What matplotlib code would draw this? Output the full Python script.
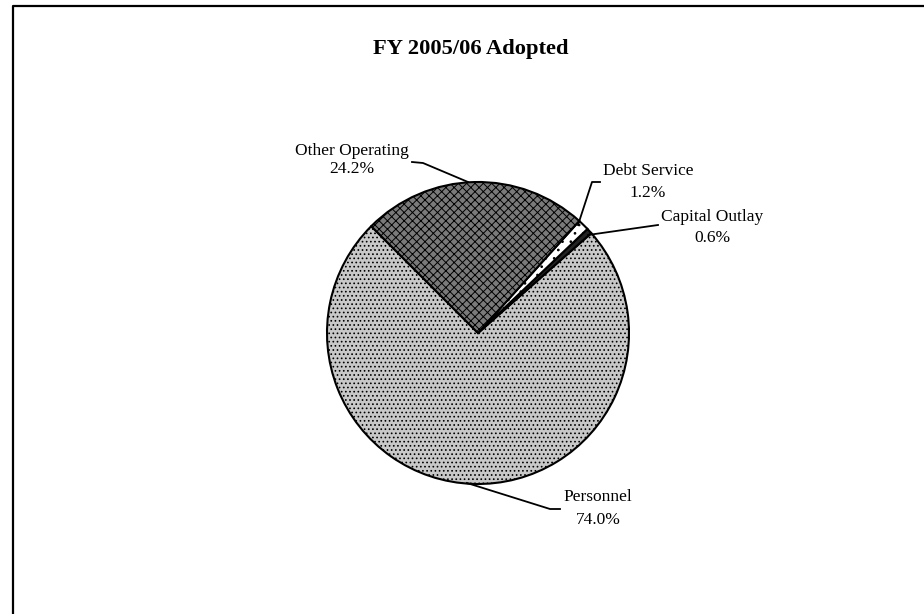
import matplotlib.pyplot as plt
import numpy as np

plt.rcParams['font.family'] = ['Liberation Serif', 'DejaVu Serif']
plt.rcParams['hatch.linewidth'] = 0.7

# data (pie drawn counterclockwise from 135 deg)
categories = ["Personnel", "Capital Outlay", "Debt Service", "Other Operating"]
shares = [74.0, 0.6, 1.2, 24.2]
face_cols = ["#c8c8c8", "#222222", "#ffffff", "#7a7a7a"]
hatches = ["....", "", "..", "xxxx"]

W, H = 924, 614

def px(x, y):
    # picture pixel -> data coords (y up)
    return x, H - y

fig = plt.figure(figsize=(9.24, 6.14), dpi=100)
ax = fig.add_axes([0, 0, 1, 1])

# frame (only top & left visible)
ax.plot([13, 13, W + 5], [-5, H - 6, H - 6], color='black', lw=1.6)

cx, cy = px(478, 333)
wedges, _ = ax.pie(shares, startangle=135, counterclock=True, center=(cx, cy),
                   radius=151, colors=face_cols, frame=True,
                   wedgeprops=dict(edgecolor='black', linewidth=1.5))
for w, h in zip(wedges, hatches):
    w.set_hatch(h)
ax.set_xlim(0, W)
ax.set_ylim(0, H)
ax.set_aspect('equal')
ax.axis('off')

ax.text(*px(471, 49), "FY 2005/06 Adopted", ha='center', va='center',
        fontsize=16.2, fontweight='bold')

# labels: text position + leader polyline (picture pixels)
labels = {
    "Other Operating": ((352, 151), (352, 169), [(412, 162), (423, 163), (468, 182)]),
    "Debt Service": ((648, 171), (648, 193), [(600, 182), (592, 182), (578, 225)]),
    "Capital Outlay": ((712, 217), (712, 238), [(658, 225), (588, 235)]),
    "Personnel": ((598, 497), (598, 520), [(560, 509), (550, 509), (467, 483)]),
}
for name, pct in zip(categories, shares):
    p1, p2, pts = labels[name]
    ax.text(*px(*p1), name, ha='center', va='center', fontsize=12.5)
    ax.text(*px(*p2), f"{pct:.1f}%", ha='center', va='center', fontsize=12.5)
    xs = [p[0] for p in pts]
    ys = [H - p[1] for p in pts]
    ax.plot(xs, ys, color='black', lw=1.3)

fig.savefig('out.png', dpi=100)
